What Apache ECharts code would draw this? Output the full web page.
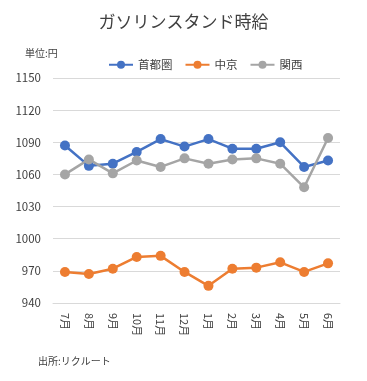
<!DOCTYPE html>
<html><head><meta charset="utf-8">
<script src="https://cdn.jsdelivr.net/npm/echarts@6/dist/echarts.min.js"></script>
<style>html,body{margin:0;padding:0;background:#fff}#c{width:367px;height:381px}</style>
</head><body><div id="c"></div>
<script>
const categories = ['7月','8月','9月','10月','11月','12月','1月','2月','3月','4月','5月','6月'];
const shutoken = [1087,1068,1070,1081,1093,1086,1093,1084,1084,1090,1067,1073];
const chukyo = [969,967,972,983,984,969,956,972,973,978,969,977];
const kansai = [1060,1074,1061,1073,1067,1075,1070,1074,1075,1070,1048,1094];
const yTicks = [940,970,1000,1030,1060,1090,1120,1150];
const FONT = '"Noto Sans CJK JP","Noto Sans",sans-serif';
const chart = echarts.init(document.getElementById('c'));
function mk(name, data, color){
  return {name, type:'line', data, symbol:'circle', symbolSize:10,
    lineStyle:{width:2.5,color}, itemStyle:{color}};
}
chart.setOption({
  animation:false,
  textStyle:{fontFamily:FONT},
  title:[{text:'ガソリンスタンド時給',left:'center',top:8,textStyle:{fontSize:17,fontWeight:'normal',color:'#404040',fontFamily:FONT}},
    {text:'単位:円',left:20,top:43,textStyle:{fontSize:10,fontWeight:'normal',color:'#404040',fontFamily:FONT}},
    {text:'出所:リクルート',left:33,top:351,textStyle:{fontSize:10,fontWeight:'normal',color:'#404040',fontFamily:FONT}}],
  legend:{data:['首都圏','中京','関西'],left:103,top:54,itemWidth:24,itemHeight:10,itemGap:12,
    textStyle:{fontSize:11.5,color:'#404040',fontFamily:FONT}},
  grid:{left:53,right:27,top:78,bottom:78},
  xAxis:{type:'category',data:categories,boundaryGap:true,
    axisLine:{lineStyle:{color:'#d9d9d9'}},axisTick:{show:false},
    axisLabel:{rotate:-90,fontSize:11,color:'#404040',margin:10}},
  yAxis:{type:'value',min:940,max:1150,
    axisLine:{show:false},
    axisTick:{show:false,customValues:yTicks},
    axisLabel:{customValues:yTicks,fontSize:11.5,color:'#404040',margin:12,formatter:v=>String(v)},
    splitLine:{lineStyle:{color:'#d9d9d9'}}},
  series:[mk('首都圏',shutoken,'#4472C4'),mk('中京',chukyo,'#ED7D31'),mk('関西',kansai,'#A5A5A5')]
});
</script></body></html>
